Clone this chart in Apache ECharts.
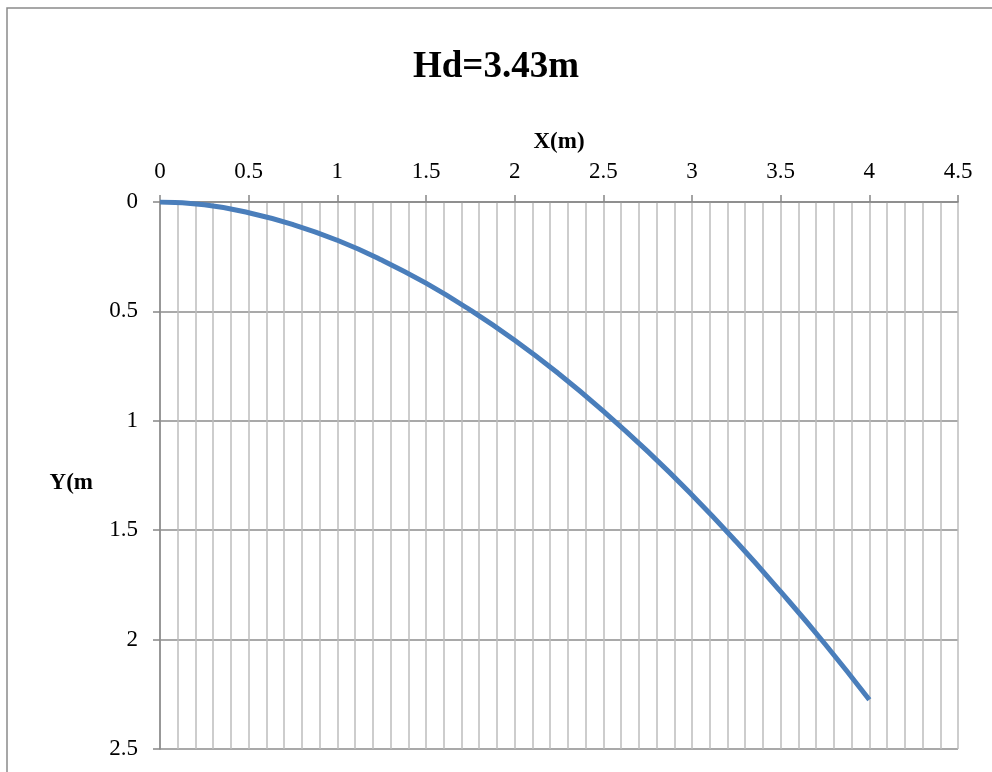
<!DOCTYPE html>
<html>
<head>
<meta charset="utf-8">
<script src="https://cdn.jsdelivr.net/npm/echarts@6/dist/echarts.min.js"></script>
<style>
  html, body { margin: 0; padding: 0; background: #ffffff; }
  #chart { width: 992px; height: 772px; }
</style>
</head>
<body>
<div id="chart"></div>
<script>
// Chart data
const titleText = 'Hd=3.43m';
const xName = 'X(m)';
const yName = 'Y(m';
const xValues = [0, 0.25, 0.5, 0.75, 1, 1.25, 1.5, 1.75, 2, 2.25, 2.5, 2.75, 3, 3.25, 3.5, 3.75, 4];
const yValues = [0, 0.013, 0.049, 0.103, 0.175, 0.265, 0.371, 0.494, 0.632, 0.786, 0.956, 1.14, 1.339, 1.553, 1.781, 2.02, 2.275];

const points = xValues.map((x, i) => [x, yValues[i]]);
const FONT = '"Liberation Serif", "Times New Roman", serif';

const chart = echarts.init(document.getElementById('chart'), null, { renderer: 'canvas' });
chart.setOption({
  backgroundColor: '#ffffff',
  animation: false,
  title: {
    text: titleText,
    left: 491,
    top: 44,
    textAlign: 'center',
    textStyle: { fontFamily: FONT, fontSize: 37, fontWeight: 'bold', color: '#000' }
  },
  graphic: [{
    type: 'rect',
    shape: { x: 7, y: 8, width: 1000, height: 800 },
    style: { fill: 'none', stroke: '#8a8a8a', lineWidth: 1.5 },
    silent: true,
    z: 0
  }],
  grid: { left: 160, top: 202, width: 798, height: 547, containLabel: false },
  xAxis: {
    type: 'value',
    position: 'top',
    min: 0, max: 4.5, interval: 0.5,
    name: xName,
    nameLocation: 'middle',
    nameGap: 48,
    nameTextStyle: { fontFamily: FONT, fontSize: 23, fontWeight: 'bold', color: '#000' },
    axisLine: { show: true, onZero: false, lineStyle: { color: '#868686', width: 1.5 } },
    axisTick: { show: true, inside: false, length: 7, lineStyle: { color: '#868686', width: 1.5 } },
    axisLabel: { fontFamily: FONT, fontSize: 23, color: '#000', margin: 19 },
    splitLine: { show: true, lineStyle: { color: '#bdbdbd', width: 1.5 } },
    minorTick: { show: false, splitNumber: 5 },
    minorSplitLine: { show: true, lineStyle: { color: '#bdbdbd', width: 1.5 } }
  },
  yAxis: {
    type: 'value',
    inverse: true,
    min: 0, max: 2.5, interval: 0.5,
    name: yName,
    nameLocation: 'middle',
    nameRotate: 0,
    nameGap: 67,
    nameTextStyle: { fontFamily: FONT, fontSize: 23, fontWeight: 'bold', color: '#000', verticalAlign: 'top', padding: [-4, 0, 0, 0] },
    axisLine: { show: true, onZero: false, lineStyle: { color: '#868686', width: 1.5 } },
    axisTick: { show: true, inside: false, length: 7, lineStyle: { color: '#868686', width: 1.5 } },
    axisLabel: { fontFamily: FONT, fontSize: 23, color: '#000', margin: 22 },
    splitLine: { show: true, lineStyle: { color: '#8c8c8c', width: 1.5 } }
  },
  series: [{
    type: 'line',
    data: points,
    smooth: true,
    showSymbol: false,
    symbol: 'none',
    lineStyle: { color: '#4a7ebb', width: 5, cap: 'butt' },
    z: 5
  }]
});
</script>
</body>
</html>
